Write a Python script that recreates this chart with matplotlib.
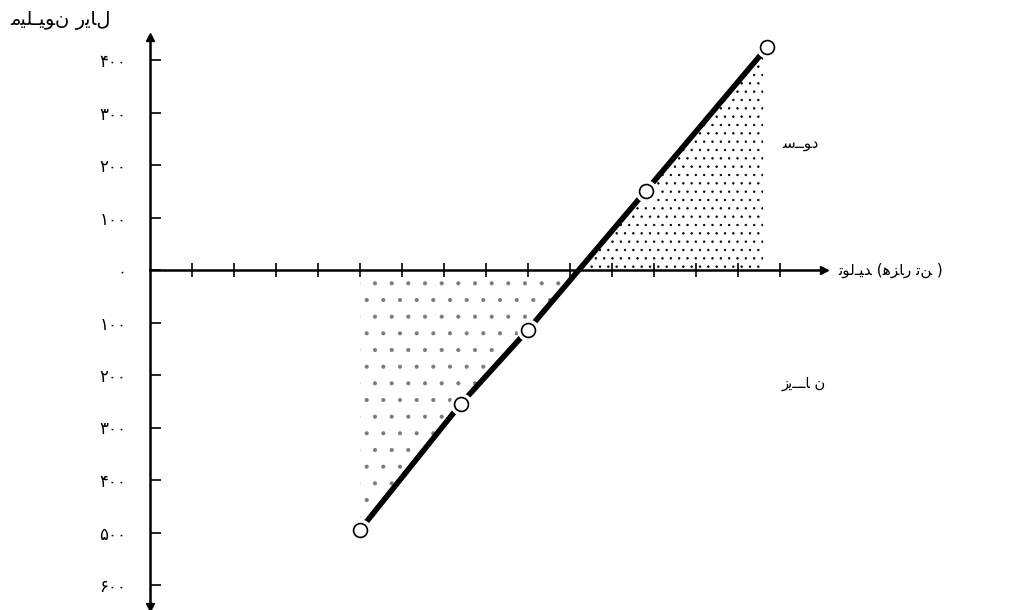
import numpy as np
import matplotlib.pyplot as plt

plt.rcParams['font.family'] = ['DejaVu Sans']
plt.rcParams['hatch.linewidth'] = 0.5

# production (tick units) vs profit / loss (million rials)
x_points = [5.0, 7.4, 9.0, 11.8, 14.7]
y_points = [-495, -255, -114, 150, 425]

y_ticks = [400, 300, 200, 100, 0, -100, -200, -300, -400, -500, -600]
y_tick_labels = ['۴۰۰', '۳۰۰', '۲۰۰', '۱۰۰', '۰', '۱۰۰', '۲۰۰', '۳۰۰', '۴۰۰', '۵۰۰', '۶۰۰']
x_ticks = list(range(1, 16))

loss_edge = 5.0
profit_edge = 14.6

# labels (Persian, contextual forms as printed in the original)
y_title = '\uFEE3\uFBFF\uFEE0\u0640\uFBFF\uFEEE\uFEE5 \uFEAD\uFBFE\uFE8E\uFEDD'      # میلیون ریال
x_title = '\uFE97\uFEEE\uFEDF\u0640\uFBFF\uFEAA (\uFEEB\uFEB0\uFE8E\uFEAD \uFE97\uFEE6 )'  # تولید (هزار تن)
profit_lbl = '\uFEB3\u0640\u0640\uFEEE\uFEA9'                                       # سود
loss_lbl = '\uFEAF\uFBFE\u0640\u0640\u0640\uFE8E \uFEE5'                             # زیان

px_x, px_y = 42.0, 0.525   # pixels per unit
ox, oy = 150, 270          # origin in pixels

fig = plt.figure(figsize=(10.35, 6.1), dpi=100)
ax = fig.add_axes([0, 0, 1, 1])
ax.set_xlim(-ox / px_x, (1035 - ox) / px_x)
ax.set_ylim((oy - 610) / px_y, oy / px_y)

for s in ['top', 'right']:
    ax.spines[s].set_visible(False)
ax.spines['left'].set_position(('data', 0))
ax.spines['bottom'].set_position(('data', 0))
ax.spines['left'].set_bounds(-642, 444)
ax.spines['bottom'].set_bounds(0, 16.05)
for s in ['left', 'bottom']:
    ax.spines[s].set_linewidth(1.8)

ax.set_yticks(y_ticks, y_tick_labels)
ax.tick_params(axis='y', direction='in', length=8, width=1.2, pad=17, labelsize=12)
ax.set_xticks(x_ticks)
ax.tick_params(axis='x', direction='inout', length=10, width=1.2, labelbottom=False)

# arrow heads
ax.plot(0, 444, marker='^', color='black', ms=6, clip_on=False)
ax.plot(0, -642, marker='v', color='black', ms=6, clip_on=False)
ax.plot(16.05, 0, marker='>', color='black', ms=6, clip_on=False)

# stippled loss / profit areas
be = np.interp(0, y_points, x_points)
lx = [x_points[0], x_points[1], x_points[2], be]
ly = [y_points[0], y_points[1], y_points[2], 0]
ax.fill_between(lx, ly, 0, facecolor='none', edgecolor='#7a7a7a', hatch='.', lw=0)
top = np.interp(profit_edge, x_points, y_points)
px = [be, x_points[3], profit_edge]
py = [0, y_points[3], top]
ax.fill_between(px, py, 0, facecolor='none', edgecolor='black', hatch='..', lw=0)

# break-even line with open circles
ax.plot(x_points, y_points, color='black', lw=4, solid_capstyle='butt', zorder=3)
ax.plot(x_points, y_points, 'o', color='white', ms=15, zorder=4)
ax.plot(x_points, y_points, 'o', mfc='white', mec='black', mew=1.2, ms=10, zorder=5)

ax.text((838 - ox) / px_x, 0, x_title, ha='left', va='center', fontsize=11)
ax.text((782 - ox) / px_x, (oy - 143) / px_y, profit_lbl, ha='left', va='center', fontsize=11)
ax.text((782 - ox) / px_x, (oy - 383) / px_y, loss_lbl, ha='left', va='center', fontsize=10.5)
fig.text(10 / 1035, 1 - 20 / 610, y_title, ha='left', va='center', fontsize=14)

fig.savefig('out.png', dpi=100)
